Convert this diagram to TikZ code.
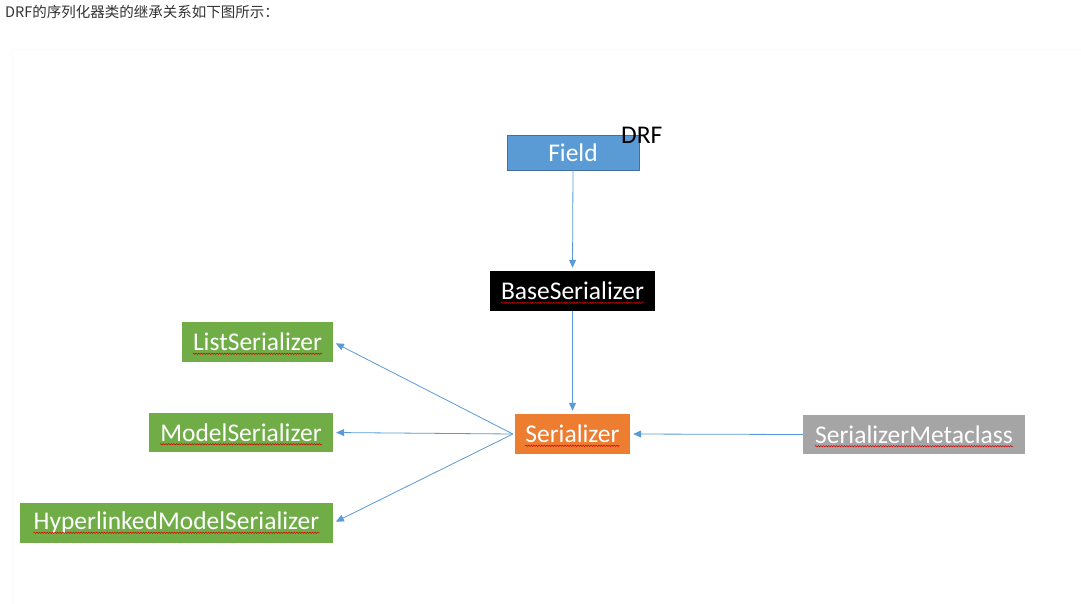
\documentclass[tikz,border=0pt]{standalone}
\usepackage{fontspec}
\setmainfont{Carlito}
\newfontfamily\cjk{Noto Sans CJK SC}
\usetikzlibrary{arrows.meta,decorations.pathmorphing}
\definecolor{fieldblue}{HTML}{5B9BD5}
\definecolor{fieldedge}{HTML}{41719C}
\definecolor{serorange}{HTML}{ED7D31}
\definecolor{metagray}{HTML}{A5A5A5}
\definecolor{subgreen}{HTML}{70AD47}
\definecolor{arrowblue}{HTML}{5B9BD5}
\definecolor{headgray}{HTML}{333333}
\tikzset{
  box/.style={draw=none, inner sep=0pt, rectangle},
  lbl/.style={inner sep=0pt, text=white, font=\fontsize{25.5}{28}\selectfont},
  squig/.style={draw=red!85!black, line width=0.5pt,
    decorate, decoration={snake, amplitude=0.7pt, segment length=2.6pt}},
  link/.style={draw=arrowblue, line width=0.8pt,
    -{Triangle[length=8pt,width=7pt]}, shorten >=3pt}
}
\begin{document}
\begin{tikzpicture}[x=1pt,y=-1pt]
\useasboundingbox (0,0) rectangle (1081,604);
\fill[white] (0,0) rectangle (1081,604);
% faint frame
\draw[gray!5, line width=0.8pt] (12,49) -- (1081,49);
\draw[gray!5, line width=0.8pt] (12,49) -- (12,604);
% header
\node[anchor=north west, inner sep=0pt, text=headgray,
  font=\cjk\fontsize{14.5}{17}\selectfont] (head) at (5,5) {DRF的序列化器类的继承关系如下图所示：};

% boxes
\node[box, fill=fieldblue, draw=fieldedge, line width=0.6pt,
  minimum width=132pt, minimum height=35pt] (field) at (573,152.5) {};
\node[lbl] (fieldt) at (field) {Field};
\node[anchor=base west, inner sep=0pt, font=\fontsize{25.5}{28}\selectfont] (drf) at (621,144) {DRF};

\node[box, fill=black, minimum width=165pt, minimum height=40pt] (base) at (572.5,291) {};
\node[lbl] (baset) at (base) {BaseSerializer};

\node[box, fill=serorange, minimum width=115pt, minimum height=40pt] (ser) at (572.5,434) {};
\node[lbl] (sert) at (ser) {Serializer};

\node[box, fill=metagray, minimum width=222pt, minimum height=39pt] (meta) at (914,434.5) {};
\node[lbl] (metat) at (meta) {SerializerMetaclass};

\node[box, fill=subgreen, minimum width=151pt, minimum height=40pt] (list) at (257.5,342) {};
\node[lbl] (listt) at (list) {ListSerializer};

\node[box, fill=subgreen, minimum width=184pt, minimum height=39pt] (model) at (241,432.5) {};
\node[lbl] (modelt) at (model) {ModelSerializer};

\node[box, fill=subgreen, minimum width=313pt, minimum height=40pt] (hyper) at (176.5,523) {};
\node[lbl] (hypert) at (hyper) {HyperlinkedModelSerializer};

% spell-check squiggles
\foreach \t in {baset,sert,metat,listt,modelt,hypert}{
  \draw[squig] ([yshift=-3pt]\t.base west) -- ([yshift=-3pt]\t.base east);
}

% connectors
\draw[link] (field.south) -- (base.north);
\draw[link] (base.south) -- (ser.north);
\draw[link] (meta.west) -- (ser.east);
\coordinate (fan) at ([xshift=-2pt]ser.west);
\draw[link] (fan) -- (list.east);
\draw[link] (fan) -- (model.east);
\draw[link] (fan) -- (hyper.east);
\end{tikzpicture}
\end{document}
